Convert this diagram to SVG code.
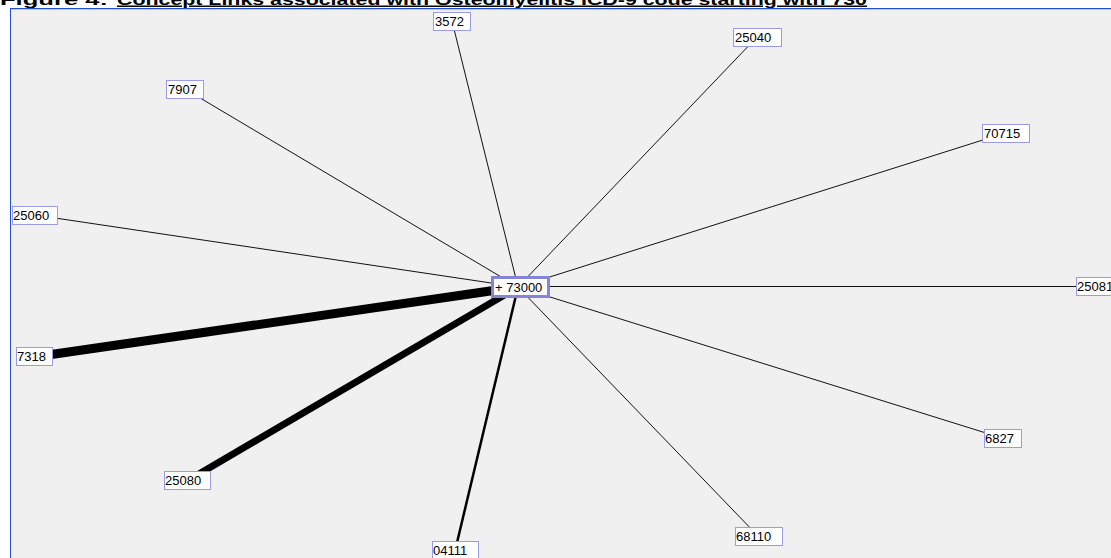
<svg xmlns="http://www.w3.org/2000/svg" width="1111" height="558" viewBox="0 0 1111 558">
<style>
.t{font-family:"Liberation Sans",Arial,sans-serif;font-size:13px;fill:#000}
.b{fill:#fff;stroke:#9a9ae6;stroke-width:1}
.e{stroke:#111;fill:none;stroke-width:1}
.k{stroke:#000;fill:none}
.ttl{font-family:"Liberation Sans",Arial,sans-serif;font-size:15px;font-weight:bold;fill:#000}
</style>
<rect x="0" y="0" width="1111" height="558" fill="#fff"/>
<text class="ttl" x="0" y="4.5" textLength="108" lengthAdjust="spacingAndGlyphs">Figure 4:</text>
<text class="ttl" x="117" y="4.5" textLength="750" lengthAdjust="spacingAndGlyphs" text-decoration="underline">Concept Links associated with Osteomyelitis ICD-9 code starting with 730</text>
<rect x="10.5" y="8.5" width="1102" height="551" fill="#f0f0f0" stroke="#1f4fd0" stroke-width="1"/>
<line x1="11" y1="9.5" x2="1111" y2="9.5" stroke="#b8c8ec" stroke-width="1"/>
<g id="connectors">
<line class="e" x1="518" y1="287" x2="452" y2="21"/>
<line class="e" x1="518" y1="287" x2="757" y2="37"/>
<line class="e" x1="518" y1="287" x2="185" y2="89"/>
<line class="e" x1="518" y1="287" x2="1005" y2="133"/>
<line class="e" x1="518" y1="287" x2="35" y2="215"/>
<line class="e" x1="518" y1="286.5" x2="1100" y2="286.5"/>
<line class="k" x1="518" y1="287" x2="34" y2="357" stroke-width="9"/>
<line class="k" x1="518" y1="287" x2="187" y2="481" stroke-width="7"/>
<line class="k" x1="518" y1="287" x2="455" y2="551" stroke-width="2.5"/>
<line class="e" x1="518" y1="287" x2="758" y2="536"/>
<line class="e" x1="518" y1="287" x2="1002" y2="438"/>
</g>
<g id="n3572"><rect class="b" x="433.5" y="12.5" width="37" height="18"/><text class="t" x="435" y="26">3572</text></g>
<g id="n25040"><rect class="b" x="733.5" y="28.5" width="48" height="18"/><text class="t" x="735" y="42">25040</text></g>
<g id="n7907"><rect class="b" x="166.5" y="80.5" width="37" height="18"/><text class="t" x="168" y="94">7907</text></g>
<g id="n70715"><rect class="b" x="982.5" y="124.5" width="47" height="18"/><text class="t" x="984" y="138">70715</text></g>
<g id="n25060"><rect class="b" x="12.5" y="206.5" width="45" height="18"/><text class="t" x="13" y="220">25060</text></g>
<g id="n25081"><rect class="b" x="1076.5" y="277.5" width="47" height="18"/><text class="t" x="1077" y="291">25081</text></g>
<g id="n7318"><rect class="b" x="16.5" y="347.5" width="36" height="18"/><text class="t" x="17" y="361">7318</text></g>
<g id="n6827"><rect class="b" x="984.5" y="429.5" width="37" height="18"/><text class="t" x="985" y="443">6827</text></g>
<g id="n25080"><rect class="b" x="164.5" y="471.5" width="46" height="18"/><text class="t" x="165" y="485">25080</text></g>
<g id="n68110"><rect class="b" x="735.5" y="527.5" width="47" height="18"/><text class="t" x="736" y="541">68110</text></g>
<g id="n04111"><rect class="b" x="432.5" y="541.5" width="46" height="18"/><text class="t" x="433" y="555">04111</text></g>
<g id="n73000"><rect x="492.5" y="277.5" width="56" height="19" fill="#fff" stroke="#8585d6" stroke-width="3"/><text class="t" x="495" y="292">+ 73000</text></g>
</svg>
